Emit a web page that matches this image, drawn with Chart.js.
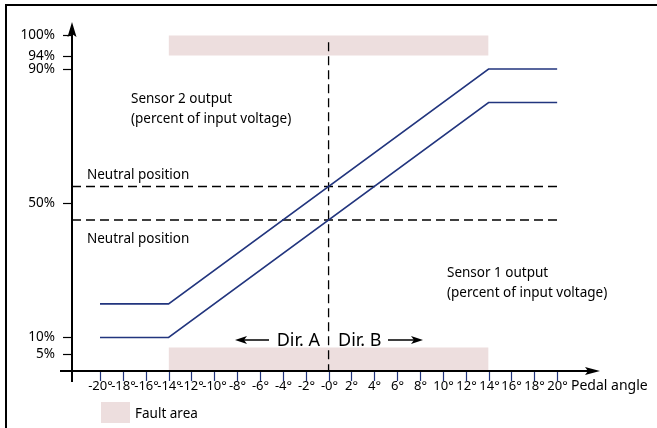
<!DOCTYPE html>
<html>
<head>
<meta charset="utf-8">
<script src="https://cdn.jsdelivr.net/npm/chart.js@4/dist/chart.umd.min.js"></script>
<style>
  html, body { margin: 0; padding: 0; background: #fff; }
  #wrap { width: 657px; height: 428px; }
</style>
</head>
<body>
<div id="wrap"><canvas id="pedalChart" width="657" height="428"></canvas></div>
<script>
// Pedal angle (degrees) at the break points of the sensor outputs
const angles = [-20, -14, 14, 20];
const sensor1 = [10, 10, 80, 80];
const sensor2 = [20, 20, 90, 90];

// neutral position levels (%)
const neutralLow = 45;
const neutralHigh = 55;

// fault areas
const faultAngles = [-14, 14];
const faultLow = [0, 7];
const faultHigh = [94, 100];

// axis ticks
const xTicks = [-20, -18, -16, -14, -12, -10, -8, -6, -4, -2, 0, 2, 4, 6, 8, 10, 12, 14, 16, 18, 20];
const xTickLabels = ['-20°', '-18°', '-16°', '-14°', '-12°', '-10°', '-8°', '-6°', '-4°', '-2°', '-0°',
    '2°', '4°', '6°', '8°', '10°', '12°', '14°', '16°', '18°', '20°'];
const yTicks = [5, 10, 50, 90, 94, 100];
const yTickLabels = ['5%', '10%', '50%', '90%', '94%', '100%'];

const xMin = -22.45, xMax = 23.75, yMin = 0, yMax = 104;

const navy = '#22357e';
const pink = '#eddede';
const FONT = '"Noto Sans", "Open Sans", sans-serif';

function pts(xs, ys) {
    return xs.map((x, i) => ({ x: x, y: ys[i] }));
}

// axes, ticks and labels drawn by hand
const drawingPlugin = {
    id: 'drawing',
    afterDraw(chart) {
        const ctx = chart.ctx;
        const xs = chart.scales.x, ys = chart.scales.y;
        const ax = xs.left;
        const ay = ys.getPixelForValue(0);
        ctx.save();

        // frame
        ctx.strokeStyle = '#000';
        ctx.lineWidth = 2;
        ctx.beginPath();
        ctx.moveTo(6, 428);
        ctx.lineTo(6, 5);
        ctx.lineTo(657, 5);
        ctx.stroke();

        // axis lines
        ctx.lineWidth = 2;
        ctx.beginPath();
        ctx.moveTo(ax, ay + 11);
        ctx.lineTo(ax, ys.top + 8);
        ctx.moveTo(ax - 12, ay);
        ctx.lineTo(xs.right - 8, ay);
        ctx.stroke();

        // arrow heads
        ctx.fillStyle = '#000';
        ctx.beginPath();
        ctx.moveTo(ax, ys.top);
        ctx.lineTo(ax + 4.5, ys.top + 15);
        ctx.lineTo(ax, ys.top + 12);
        ctx.lineTo(ax - 4.5, ys.top + 15);
        ctx.closePath();
        ctx.fill();
        ctx.beginPath();
        ctx.moveTo(xs.right, ay);
        ctx.lineTo(xs.right - 15, ay - 4);
        ctx.lineTo(xs.right - 12, ay);
        ctx.lineTo(xs.right - 15, ay + 4);
        ctx.closePath();
        ctx.fill();

        // y ticks
        ctx.lineWidth = 1.2;
        ctx.font = '13.5px ' + FONT;
        ctx.textAlign = 'right';
        ctx.textBaseline = 'middle';
        yTicks.forEach((v, i) => {
            const py = Math.round(ys.getPixelForValue(v)) + 0.5;
            ctx.beginPath();
            ctx.moveTo(ax - 9, py);
            ctx.lineTo(ax, py);
            ctx.stroke();
            ctx.fillText(yTickLabels[i], ax - 17, py);
        });

        // x ticks
        ctx.strokeStyle = navy;
        ctx.textAlign = 'center';
        ctx.font = '13px ' + FONT;
        xTicks.forEach((v, i) => {
            const px = Math.round(xs.getPixelForValue(v)) + 0.5;
            ctx.beginPath();
            ctx.moveTo(px, ay + 1);
            ctx.lineTo(px, ay + 10);
            ctx.stroke();
            ctx.fillStyle = '#000';
            ctx.fillText(xTickLabels[i], px, ay + 15);
        });
        ctx.textAlign = 'left';
        ctx.font = '14px ' + FONT;
        ctx.fillText('Pedal angle', 571, ay + 15);

        // annotations
        ctx.font = '13.5px ' + FONT;
        ctx.textBaseline = 'alphabetic';
        ctx.fillText('Sensor 2 output', 131, 103);
        ctx.fillText('(percent of input voltage)', 131, 123);
        ctx.fillText('Sensor 1 output', 447, 277);
        ctx.fillText('(percent of input voltage)', 447, 297);
        ctx.fillText('Neutral position', 87, 179);
        ctx.fillText('Neutral position', 87, 243);

        // Dir. A / Dir. B
        ctx.font = '18px ' + FONT;
        ctx.textAlign = 'right';
        ctx.fillText('Dir. A', 320, 346);
        ctx.textAlign = 'left';
        ctx.fillText('Dir. B', 338, 346);
        ctx.lineWidth = 1.5;
        ctx.strokeStyle = '#000';
        ctx.beginPath();
        ctx.moveTo(240, 340);
        ctx.lineTo(269, 340);
        ctx.moveTo(388, 340);
        ctx.lineTo(417, 340);
        ctx.stroke();
        ctx.beginPath();
        ctx.moveTo(235, 340);
        ctx.lineTo(247, 336);
        ctx.lineTo(244, 340);
        ctx.lineTo(247, 344);
        ctx.closePath();
        ctx.moveTo(423, 340);
        ctx.lineTo(411, 336);
        ctx.lineTo(414, 340);
        ctx.lineTo(411, 344);
        ctx.closePath();
        ctx.fill();

        // legend
        ctx.fillStyle = pink;
        ctx.fillRect(101, 402, 29, 21);
        ctx.fillStyle = '#000';
        ctx.font = '13.5px ' + FONT;
        ctx.fillText('Fault area', 135, 418);

        ctx.restore();
    }
};

const ctx = document.getElementById('pedalChart').getContext('2d');
new Chart(ctx, {
    type: 'line',
    data: {
        datasets: [
            {
                label: 'Sensor 2 output',
                data: pts(angles, sensor2),
                borderColor: navy,
                borderWidth: 1.6,
                pointRadius: 0,
                fill: false,
                order: 1
            },
            {
                label: 'Sensor 1 output',
                data: pts(angles, sensor1),
                borderColor: navy,
                borderWidth: 1.6,
                pointRadius: 0,
                fill: false,
                order: 1
            },
            {
                label: 'Neutral high',
                data: pts([xMin, 20], [neutralHigh, neutralHigh]),
                borderColor: '#000',
                borderWidth: 1.5,
                borderDash: [9, 5],
                pointRadius: 0,
                fill: false,
                order: 2
            },
            {
                label: 'Neutral low',
                data: pts([xMin, 20], [neutralLow, neutralLow]),
                borderColor: '#000',
                borderWidth: 1.5,
                borderDash: [9, 5],
                pointRadius: 0,
                fill: false,
                order: 2
            },
            {
                label: 'Center',
                data: pts([0, 0], [98, 0]),
                borderColor: '#000',
                borderWidth: 1.3,
                borderDash: [9, 5],
                pointRadius: 0,
                fill: false,
                order: 2
            },
            {
                label: 'Fault area high',
                data: pts(faultAngles, [faultHigh[1], faultHigh[1]]),
                borderWidth: 0,
                borderColor: 'rgba(0,0,0,0)',
                backgroundColor: pink,
                pointRadius: 0,
                fill: { value: faultHigh[0] },
                order: 10
            },
            {
                label: 'Fault area low',
                data: pts(faultAngles, [faultLow[1], faultLow[1]]),
                borderWidth: 0,
                borderColor: 'rgba(0,0,0,0)',
                backgroundColor: pink,
                pointRadius: 0,
                fill: { value: faultLow[0] },
                order: 10
            }
        ]
    },
    options: {
        responsive: false,
        animation: false,
        layout: {
            padding: { left: 72, right: 57, top: 22, bottom: 57 }
        },
        plugins: {
            legend: { display: false },
            tooltip: { enabled: false }
        },
        scales: {
            x: { type: 'linear', min: xMin, max: xMax, display: false },
            y: { type: 'linear', min: yMin, max: yMax, display: false }
        }
    },
    plugins: [drawingPlugin]
});
</script>
</body>
</html>
